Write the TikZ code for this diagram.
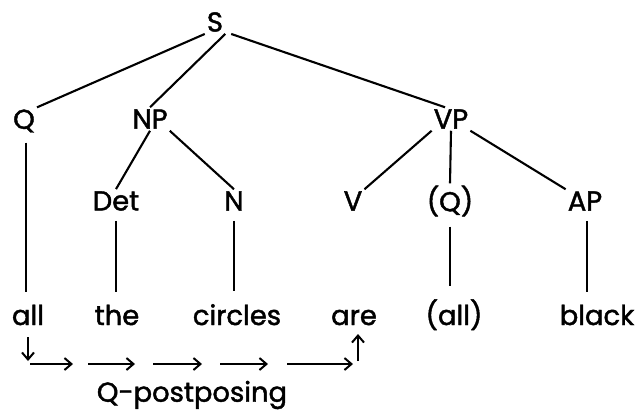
\documentclass[tikz,border=0pt]{standalone}
\usepackage{fontspec}
\newfontfamily\treefont{Poppins}[FakeBold=1.6]
\usetikzlibrary{arrows.meta}
\begin{document}
\begin{tikzpicture}[x=1bp,y=-1bp,
  lab/.style={font=\fontsize{27.5}{30}\treefont, inner sep=2bp},
  word/.style={font=\fontsize{27.5}{30}\treefont, inner sep=2bp, anchor=base},
  edge/.style={line width=2.1bp},
  down/.style={line width=2.1bp, shorten <=8bp, shorten >=11bp},
  mv/.style={line width=2bp, -{Straight Barb[length=7bp,width=12bp,line width=2bp]}}]
\useasboundingbox (0,0) rectangle (638,413);
% labels
\node[lab] (S)   at (215,22)  {S};
\node[lab] (Q)   at (24,121)  {Q};
\node[lab] (NP)  at (150,119) {NP};
\node[lab] (VP)  at (451,119) {VP};
\node[lab] (Det) at (116,201) {Det};
\node[lab] (N)   at (234,201) {N};
\node[lab] (V)   at (353,201) {V};
\node[lab] (Q2)  at (450,201) {(Q)};
\node[lab] (AP)  at (585,201) {AP};
% words
\node[word] (w1) at (28,325)  {all};
\node[word] (w2) at (117,325) {the};
\node[word] (w3) at (237,325) {circles};
\node[word] (w4) at (354,325) {are};
\node[word] (w5) at (454,325) {(all)};
\node[word] (w6) at (597,325) {black};
\node[lab] (rule) at (192,395) {Q-postposing};
% tree edges
\draw[edge] (S.south west) -- (Q.north east);
\draw[edge] (S.south east) -- (NP.north);
\draw[edge] ([xshift=6bp]S.south east) -- ([xshift=-6bp]VP.north);
\draw[edge] (NP.south) -- (Det.north);
\draw[edge] (NP.south east) -- (N.north);
\draw[edge] (VP.south west) -- (V.north east);
\draw[edge] (VP.south) -- (Q2.north);
\draw[edge] (VP.south east) -- (AP.north west);
% lexical lines
\draw[down] ([xshift=2bp]Q.south) -- ([xshift=2bp]Q.south |- w1.north);
\draw[down] (Det.south) -- (Det.south |- w2.north);
\draw[down] (N.south) -- (N.south |- w3.north);
\draw[down] (Q2.south) -- (Q2.south |- w5.north);
\draw[down] ([xshift=2bp]AP.south) -- ([xshift=2bp]AP.south |- w6.north);
% movement arrows
\coordinate (d0) at (28,337);
\coordinate (d1) at (28,361);
\draw[mv] (d0) -- (d1);
\coordinate (h0) at (30,364);  \coordinate (h1) at (73,364);
\coordinate (h2) at (88,364);  \coordinate (h3) at (135,364);
\coordinate (h4) at (153,364); \coordinate (h5) at (202,364);
\coordinate (h6) at (220,364); \coordinate (h7) at (268,364);
\coordinate (h8) at (287,364); \coordinate (h9) at (353,364);
\draw[mv] (h0) -- (h1);
\draw[mv] (h2) -- (h3);
\draw[mv] (h4) -- (h5);
\draw[mv] (h6) -- (h7);
\draw[mv] (h8) -- (h9);
\coordinate (u0) at (358,361);
\coordinate (u1) at (358,334);
\draw[mv] (u0) -- (u1);
\end{tikzpicture}
\end{document}
